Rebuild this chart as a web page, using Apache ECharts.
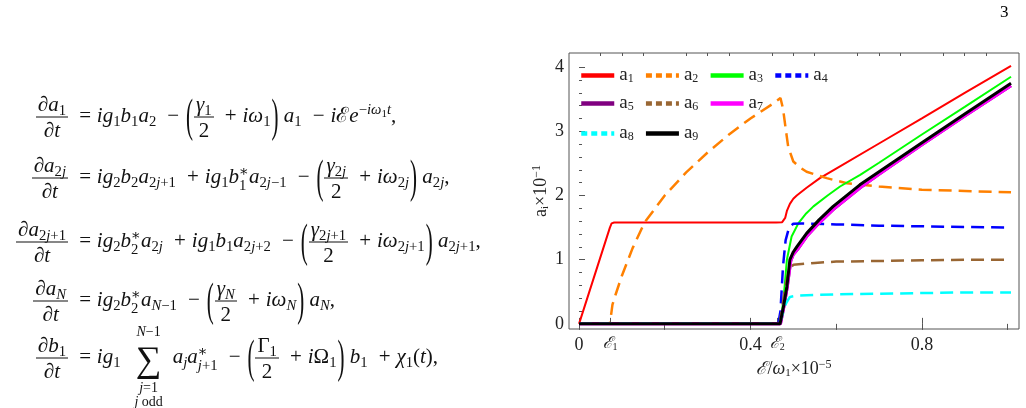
<!DOCTYPE html>
<html>
<head>
<meta charset="utf-8">
<script src="https://cdn.jsdelivr.net/npm/echarts@6/dist/echarts.min.js"></script>
<style>
  body { margin: 0; width: 1026px; height: 408px; position: relative; background: #fff; overflow: hidden; }
  #main { position: absolute; left: 0; top: 0; width: 1026px; height: 408px; }
  .eq { position: absolute; left: 0; transform: translateY(-50%); white-space: nowrap; font-family: "Liberation Serif", "DejaVu Serif", serif; font-size: 21px; line-height: 1; color: #111; }
  .lhs { display: inline-block; width: 68px; text-align: right; }
  .f { display: inline-block; vertical-align: middle; text-align: center; }
  .f > span { display: block; padding: 2px 2px; }
  .f > span:first-child { border-bottom: 1px solid #111; }
  .v { font-style: italic; }
  sub, sup { font-size: 70%; line-height: 0; }
  sub { vertical-align: -0.3em; }
  sup { vertical-align: 0.55em; }
  .p { display: inline-block; transform: scaleY(2.2); vertical-align: middle; margin: 0 1px; }
  .op { margin: 0 0.28em; }
  .ss { display: inline-flex; flex-direction: column; font-size: 70%; vertical-align: middle; line-height: 0.95; }
  .sum { display: inline-block; position: relative; font-size: 36px; vertical-align: middle; margin: 0 6px 0 10px; }
  .sum .up, .sum .dn { position: absolute; left: 50%; transform: translateX(-50%); font-size: 14px; white-space: nowrap; text-align: center; }
  .sum .up { top: -16px; }
  .sum .dn { top: 40px; line-height: 1.0; }
  #pg { position: absolute; left: 1000px; top: 2px; font-family: "Liberation Serif", serif; font-size: 17px; }
</style>
</head>
<body>
<div id="main"></div>
<div id="pg">3</div>

<div class="eq" style="top:117px">
  <span class="lhs"><span class="f"><span>∂<span class="v">a</span><sub>1</sub></span><span>∂<span class="v">t</span></span></span></span>
  <span class="op">=</span><span class="v">ig</span><sub>1</sub><span class="v">b</span><sub>1</sub><span class="v">a</span><sub>2</sub>
  <span class="op">−</span><span class="p">(</span><span class="f"><span><span class="v">γ</span><sub>1</sub></span><span>2</span></span>
  <span class="op">+</span><span class="v">iω</span><sub>1</sub><span class="p">)</span>&thinsp;<span class="v">a</span><sub>1</sub>
  <span class="op">−</span><span class="v">i</span>ℰ<span class="v">e</span><sup>−<span class="v">iω</span><sub style="font-size:75%">1</sub><span class="v">t</span></sup>,
</div>

<div class="eq" style="top:178px">
  <span class="lhs"><span class="f"><span>∂<span class="v">a</span><sub>2<span class="v">j</span></sub></span><span>∂<span class="v">t</span></span></span></span>
  <span class="op">=</span><span class="v">ig</span><sub>2</sub><span class="v">b</span><sub>2</sub><span class="v">a</span><sub>2<span class="v">j</span>+1</sub>
  <span class="op">+</span><span class="v">ig</span><sub>1</sub><span class="v">b</span><span class="ss"><span>∗</span><span>1</span></span><span class="v">a</span><sub>2<span class="v">j</span>−1</sub>
  <span class="op">−</span><span class="p">(</span><span class="f"><span><span class="v">γ</span><sub>2<span class="v">j</span></sub></span><span>2</span></span>
  <span class="op">+</span><span class="v">iω</span><sub>2<span class="v">j</span></sub><span class="p">)</span>&thinsp;<span class="v">a</span><sub>2<span class="v">j</span></sub>,
</div>

<div class="eq" style="top:242px">
  <span class="lhs"><span class="f"><span>∂<span class="v">a</span><sub>2<span class="v">j</span>+1</sub></span><span>∂<span class="v">t</span></span></span></span>
  <span class="op">=</span><span class="v">ig</span><sub>2</sub><span class="v">b</span><span class="ss"><span>∗</span><span>2</span></span><span class="v">a</span><sub>2<span class="v">j</span></sub>
  <span class="op">+</span><span class="v">ig</span><sub>1</sub><span class="v">b</span><sub>1</sub><span class="v">a</span><sub>2<span class="v">j</span>+2</sub>
  <span class="op">−</span><span class="p">(</span><span class="f"><span><span class="v">γ</span><sub>2<span class="v">j</span>+1</sub></span><span>2</span></span>
  <span class="op">+</span><span class="v">iω</span><sub>2<span class="v">j</span>+1</sub><span class="p">)</span>&thinsp;<span class="v">a</span><sub>2<span class="v">j</span>+1</sub>,
</div>

<div class="eq" style="top:301px">
  <span class="lhs"><span class="f"><span>∂<span class="v">a</span><sub class="v">N</sub></span><span>∂<span class="v">t</span></span></span></span>
  <span class="op">=</span><span class="v">ig</span><sub>2</sub><span class="v">b</span><span class="ss"><span>∗</span><span>2</span></span><span class="v">a</span><sub><span class="v">N</span>−1</sub>
  <span class="op">−</span><span class="p">(</span><span class="f"><span><span class="v">γ</span><sub class="v">N</sub></span><span>2</span></span>
  <span class="op">+</span><span class="v">iω</span><sub class="v">N</sub><span class="p">)</span>&thinsp;<span class="v">a</span><sub class="v">N</sub>,
</div>

<div class="eq" style="top:358px">
  <span class="lhs"><span class="f"><span>∂<span class="v">b</span><sub>1</sub></span><span>∂<span class="v">t</span></span></span></span>
  <span class="op">=</span><span class="v">ig</span><sub>1</sub>
  <span class="sum">∑<span class="up"><span class="v">N</span>−1</span><span class="dn"><span class="v">j</span>=1<br><span class="v">j</span> odd</span></span>
  <span class="v">a</span><sub class="v">j</sub><span class="v">a</span><span class="ss"><span>∗</span><span><span class="v">j</span>+1</span></span>
  <span class="op">−</span><span class="p">(</span><span class="f"><span>Γ<sub>1</sub></span><span>2</span></span>
  <span class="op">+</span><span class="v">i</span>Ω<sub>1</sub><span class="p">)</span>&thinsp;<span class="v">b</span><sub>1</sub>
  <span class="op">+</span><span class="v">χ</span><sub>1</sub>(<span class="v">t</span>),
</div>

<script>
// field amplitude in units of omega1 x 1e-5, amplitudes a_i x 1e-1
const eps1 = 0.0723;
const eps2 = 0.4626;

const a1 = [[0, 0], [0.072, 1.5], [0.076, 1.565], [0.082, 1.58], [0.46, 1.58], [0.474, 1.585], [0.478, 1.6],
  [0.481, 1.65], [0.485, 1.76], [0.492, 1.87], [0.5, 1.95], [0.508, 2.0], [0.531, 2.12], [0.562, 2.27],
  [0.6, 2.42], [0.7, 2.81], [0.8, 3.2], [0.9, 3.6], [1.008, 4.02]];
const a2 = [[0, 0], [0.072, 0], [0.074, 0.1], [0.078, 0.3], [0.085, 0.45], [0.1, 0.75], [0.125, 1.18],
  [0.153, 1.58], [0.2, 2.0], [0.25, 2.36], [0.3, 2.67], [0.35, 2.95], [0.4, 3.2], [0.45, 3.42], [0.47, 3.52],
  [0.476, 3.35], [0.482, 3.05], [0.488, 2.76], [0.5, 2.53], [0.515, 2.44], [0.531, 2.37], [0.578, 2.27],
  [0.625, 2.19], [0.7, 2.14], [0.8, 2.09], [0.9, 2.07], [1.008, 2.05]];
const a3 = [[0, 0], [0.466, 0], [0.472, 0.1], [0.478, 0.45], [0.485, 1.0], [0.496, 1.36], [0.512, 1.57],
  [0.53, 1.72], [0.547, 1.83], [0.58, 2.0], [0.609, 2.14], [0.656, 2.32], [0.7, 2.51], [0.8, 2.95],
  [0.9, 3.38], [1.008, 3.85]];
const a4 = [[0, 0], [0.465, 0], [0.47, 0.2], [0.476, 0.9], [0.482, 1.3], [0.49, 1.5], [0.5, 1.56],
  [0.52, 1.565], [0.6, 1.55], [0.7, 1.53], [0.8, 1.52], [0.9, 1.51], [1.008, 1.5]];
const a5 = [[0, 0], [0.47, 0], [0.479, 0.3], [0.486, 0.58], [0.494, 0.98], [0.5, 1.08], [0.51, 1.16],
  [0.531, 1.36], [0.56, 1.57], [0.593, 1.78], [0.656, 2.12], [0.7, 2.33], [0.8, 2.79], [0.9, 3.24], [1.008, 3.71]];
const a6 = [[0, 0], [0.468, 0], [0.475, 0.3], [0.482, 0.6], [0.49, 0.85], [0.5, 0.92], [0.55, 0.95],
  [0.6, 0.97], [0.7, 0.98], [0.8, 0.99], [0.9, 1.0], [1.008, 1.0]];
const a7 = [[0, 0], [0.47, 0], [0.479, 0.3], [0.486, 0.58], [0.494, 0.98], [0.5, 1.08], [0.51, 1.16],
  [0.531, 1.36], [0.56, 1.57], [0.593, 1.78], [0.656, 2.12], [0.7, 2.33], [0.8, 2.79], [0.9, 3.24], [1.008, 3.71]];
const a8 = [[0, 0], [0.468, 0], [0.475, 0.15], [0.483, 0.32], [0.492, 0.42], [0.51, 0.44], [0.6, 0.46],
  [0.7, 0.47], [0.8, 0.48], [0.9, 0.49], [1.008, 0.49]];
const a9 = [[0, 0], [0.469, 0], [0.478, 0.3], [0.485, 0.58], [0.492, 1.0], [0.5, 1.12], [0.508, 1.2],
  [0.531, 1.41], [0.56, 1.62], [0.593, 1.83], [0.656, 2.17], [0.7, 2.37], [0.8, 2.82], [0.9, 3.27], [1.008, 3.75]];

const xLabelValues = [0, eps1, 0.4, eps2, 0.8];
const xTopMajor = [0, 0.2, 0.4, 0.6, 0.8, 1.0];
const xTopMinor = [0.05, 0.1, 0.15, 0.25, 0.3, 0.35, 0.45, 0.5, 0.55, 0.65, 0.7, 0.75, 0.85, 0.9, 0.95];
const yMajor = [0, 1, 2, 3, 4];
const yMinor = [0.2, 0.4, 0.6, 0.8, 1.2, 1.4, 1.6, 1.8, 2.2, 2.4, 2.6, 2.8, 3.2, 3.4, 3.6, 3.8];
const legendRows = [["a1", "a2", "a3", "a4"], ["a5", "a6", "a7"], ["a8", "a9"]];

const seriesDefs = [
  { name: "a1", data: a1, color: "#ff0000", width: 2, dashed: false },
  { name: "a2", data: a2, color: "#ff8000", width: 2.5, dashed: true },
  { name: "a3", data: a3, color: "#00ff00", width: 2, dashed: false },
  { name: "a4", data: a4, color: "#0000ff", width: 2.5, dashed: true },
  { name: "a5", data: a5, color: "#800080", width: 3, dashed: false },
  { name: "a6", data: a6, color: "#996633", width: 2.5, dashed: true },
  { name: "a7", data: a7, color: "#ff00ff", width: 3, dashed: false },
  { name: "a8", data: a8, color: "#00ffff", width: 2.5, dashed: true },
  { name: "a9", data: a9, color: "#000000", width: 3, dashed: false },
];

const FONT = "Liberation Serif";
const FRAME = "#555";
const X_MIN = -0.0234, X_MAX = 1.0266;
const Y_MIN = -0.08, Y_MAX = 4.22;

const chart = echarts.init(document.getElementById("main"));

const tickAxis = (extra) => ({
  type: "value",
  axisLine: { show: false },
  splitLine: { show: false },
  axisLabel: { show: false },
  ...extra,
});

const options = {
  animation: false,
  grid: { left: 569, top: 53, right: 7, bottom: 79, show: true, borderColor: FRAME, borderWidth: 1 },
  legend: legendRows.map((row, r) => ({
    data: row.map((n) => {
      const d = seriesDefs.find((s) => s.name === n);
      return {
        name: n,
        itemStyle: { opacity: 0 },
        lineStyle: { type: d.dashed ? [6, 4] : "solid", width: 4.5 },
      };
    }),
    left: 579,
    top: [66, 94, 124][r],
    padding: 0,
    itemWidth: 33,
    itemHeight: 14,
    itemGap: 10,
    selectedMode: false,
    itemStyle: { opacity: 0 },
    lineStyle: { width: 4.5 },
    formatter: (n) => `{a|a}{n|${n.slice(1)}}`,
    textStyle: {
      rich: {
        a: { fontFamily: FONT, fontSize: 19, color: "#222" },
        n: { fontFamily: FONT, fontSize: 12, color: "#222", verticalAlign: "bottom", padding: [6, 0, 0, 0] },
      },
    },
  })),
  xAxis: [
    {
      type: "value",
      min: X_MIN,
      max: X_MAX,
      position: "bottom",
      axisLine: { show: false },
      splitLine: { show: false },
      axisTick: { inside: true, length: 6, customValues: xLabelValues, lineStyle: { color: FRAME } },
      axisLabel: {
        customValues: xLabelValues,
        margin: 7,
        fontFamily: FONT,
        fontSize: 18,
        color: "#222",
        formatter: (v) => {
          if (Math.abs(v - eps1) < 1e-6) return "{e|ℰ}{s|1}";
          if (Math.abs(v - eps2) < 1e-6) return "{e|ℰ}{s|2}";
          return "{n|" + v + "}";
        },
        rich: {
          n: { fontFamily: FONT, fontSize: 18, color: "#222" },
          e: { fontFamily: FONT, fontSize: 16, fontStyle: "italic", color: "#222" },
          s: { fontFamily: FONT, fontSize: 10, color: "#222", verticalAlign: "bottom", padding: [5, 0, 0, 0] },
        },
      },
      name: "{e|ℰ}{t|/}{w|ω}{s|1}{t|×10}{u|−5}",
      nameLocation: "middle",
      nameGap: 30,
      nameTextStyle: {
        rich: {
          e: { fontFamily: FONT, fontSize: 18, fontStyle: "italic", color: "#222" },
          t: { fontFamily: FONT, fontSize: 18, color: "#222" },
          w: { fontFamily: FONT, fontSize: 18, fontStyle: "italic", color: "#222" },
          s: { fontFamily: FONT, fontSize: 11, color: "#222", verticalAlign: "bottom", padding: [6, 0, 0, 0] },
          u: { fontFamily: FONT, fontSize: 12, color: "#222", verticalAlign: "top", padding: [0, 0, 8, 0] },
        },
      },
    },
    tickAxis({ min: X_MIN, max: X_MAX, position: "top",
      axisTick: { inside: true, length: 6, customValues: xTopMajor, lineStyle: { color: FRAME } } }),
    tickAxis({ min: X_MIN, max: X_MAX, position: "top",
      axisTick: { inside: true, length: 3, customValues: xTopMinor, lineStyle: { color: FRAME } } }),
  ],
  yAxis: [
    {
      type: "value",
      min: Y_MIN,
      max: Y_MAX,
      position: "left",
      axisLine: { show: false },
      splitLine: { show: false },
      axisTick: { inside: true, length: 6, customValues: yMajor, lineStyle: { color: FRAME } },
      axisLabel: { customValues: yMajor, margin: 5, fontFamily: FONT, fontSize: 18, color: "#222" },
      name: "{a|a}{i|i}{t|×10}{u|−1}",
      nameLocation: "middle",
      nameGap: 14,
      nameRotate: 90,
      nameTextStyle: {
        rich: {
          a: { fontFamily: FONT, fontSize: 18, color: "#222" },
          i: { fontFamily: FONT, fontSize: 11, color: "#222", verticalAlign: "bottom", padding: [6, 0, 0, 0] },
          t: { fontFamily: FONT, fontSize: 18, color: "#222" },
          u: { fontFamily: FONT, fontSize: 12, color: "#222", verticalAlign: "top", padding: [0, 0, 8, 0] },
        },
      },
    },
    tickAxis({ min: Y_MIN, max: Y_MAX, position: "left",
      axisTick: { inside: true, length: 3, customValues: yMinor, lineStyle: { color: FRAME } } }),
  ],
  series: seriesDefs.map((s) => ({
    name: s.name,
    type: "line",
    data: s.data,
    xAxisIndex: 0,
    yAxisIndex: 0,
    symbol: "none",
    smooth: false,
    clip: true,
    color: s.color,
    lineStyle: { color: s.color, width: s.width, type: s.dashed ? [13, 7] : "solid" },
  })),
};

chart.setOption(options);
</script>
</body>
</html>
